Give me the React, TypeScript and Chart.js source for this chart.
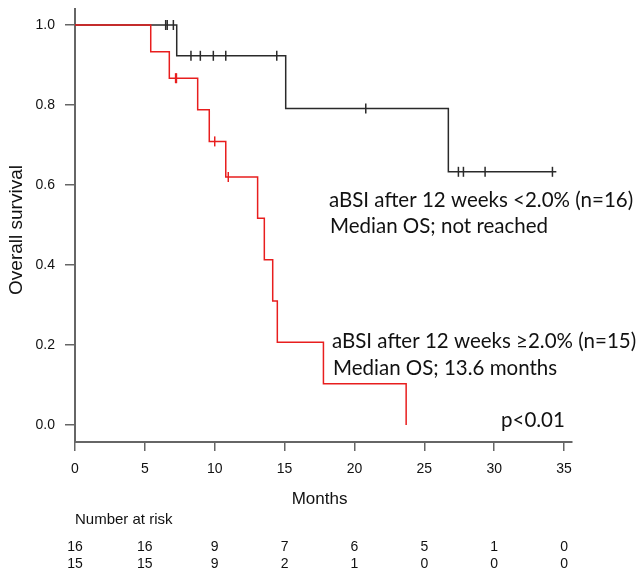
import React, { useEffect, useRef } from "react";
import { Chart, registerables } from "chart.js";

Chart.register(...registerables);

// Axis ticks
const xTicks = [0, 5, 10, 15, 20, 25, 30, 35];
const yTicks = [0, 0.2, 0.4, 0.6, 0.8, 1.0];

// aBSI < 2.0% (n=16): Kaplan-Meier steps and censor times
const lowTimes = [0, 7.28, 15.08, 26.72, 34.45];
const lowSurv = [1, 0.923, 0.791, 0.633, 0.633];
const lowCensor = [6.49, 6.6, 7.04, 8.3, 8.97, 9.9, 10.79, 14.44, 20.81, 27.44, 27.8, 29.35, 34.17];

// aBSI >= 2.0% (n=15)
const highTimes = [0, 5.42, 6.75, 8.78, 9.61, 10.79, 13.07, 13.55, 14.15, 14.48, 17.78, 23.7];
const highSurv = [1, 0.933, 0.867, 0.788, 0.709, 0.62, 0.517, 0.413, 0.31, 0.207, 0.103, 0];
const highCensor = [7.2, 7.26, 10.0, 10.97];

// Number at risk
const riskLow = [16, 16, 9, 7, 6, 5, 1, 0];
const riskHigh = [15, 15, 9, 2, 1, 0, 0, 0];

const BLACK = "#2a2a2a";
const RED = "rgb(232,30,30)";
const AXIS = "#666666";

function survAt(times: number[], surv: number[], t: number) {
  let v = surv[0];
  for (let i = 0; i < times.length; i++) if (times[i] <= t) v = surv[i];
  return v;
}

const textPlugin = {
  id: "kmText",
  afterDraw(chart: any) {
    const ctx = chart.ctx as CanvasRenderingContext2D;
    const xs = chart.scales.x;
    ctx.save();
    ctx.fillStyle = "#111";
    // annotations
    ctx.font = '20.5px Lato';
    ctx.textAlign = "left";
    ctx.textBaseline = "alphabetic";
    ctx.fillText("aBSI after 12 weeks <2.0% (n=16)", 329, 207);
    ctx.fillText("Median OS; not reached", 330, 233);
    ctx.fillText("aBSI after 12 weeks \u22652.0% (n=15)", 332, 348);
    ctx.fillText("Median OS; 13.6 months", 333, 375);
    ctx.fillText("p<0.01", 501, 427);

    // axis titles
    ctx.font = '17px "Liberation Sans"';
    ctx.textAlign = "center";
    ctx.fillText("Months", xs.getPixelForValue(17.5), 504);

    ctx.save();
    ctx.translate(17, 230);
    ctx.rotate(-Math.PI / 2);
    ctx.font = '19px "Liberation Sans"';
    ctx.textBaseline = "middle";
    ctx.fillText("Overall survival", 0, 0);
    ctx.restore();

    // risk table
    ctx.font = '15px "Liberation Sans"';
    ctx.textAlign = "left";
    ctx.fillText("Number at risk", 75, 524);
    ctx.font = '14px "Liberation Sans"';
    ctx.textAlign = "center";
    xTicks.forEach((t, i) => {
      const px = xs.getPixelForValue(t);
      ctx.fillText(String(riskLow[i]), px, 551);
      ctx.fillText(String(riskHigh[i]), px, 568);
    });
    ctx.restore();
  },
};

export default function App() {
  const ref = useRef<HTMLCanvasElement | null>(null);

  useEffect(() => {
    if (!ref.current) return;
    const censorStyle = (color: string) => ({
      showLine: false,
      pointStyle: "line" as const,
      rotation: 90,
      radius: 5,
      hoverRadius: 5,
      borderColor: color,
      backgroundColor: color,
      borderWidth: 1.5,
    });
    const chart = new Chart(ref.current, {
      type: "line",
      data: {
        datasets: [
          {
            label: "high censor",
            data: highCensor.map((t) => ({ x: t, y: survAt(highTimes, highSurv, t) })),
            ...censorStyle(RED),
          },
          {
            label: "high",
            data: highTimes.map((t, i) => ({ x: t, y: highSurv[i] })),
            stepped: true,
            borderColor: RED,
            borderWidth: 1.5,
            pointRadius: 0,
            fill: false,
          },
          {
            label: "low censor",
            data: lowCensor.map((t) => ({ x: t, y: survAt(lowTimes, lowSurv, t) })),
            ...censorStyle(BLACK),
          },
          {
            label: "low",
            data: lowTimes.map((t, i) => ({ x: t, y: lowSurv[i] })),
            stepped: true,
            borderColor: BLACK,
            borderWidth: 1.5,
            pointRadius: 0,
            fill: false,
          },
        ],
      },
      options: {
        animation: false,
        responsive: false,
        events: [],
        layout: { padding: { left: 0, top: 9, right: 72, bottom: 0 } },
        plugins: { legend: { display: false }, tooltip: { enabled: false } },
        scales: {
          x: {
            type: "linear",
            min: 0,
            max: 35.57,
            afterBuildTicks: (s: any) => {
              s.ticks = xTicks.map((v) => ({ value: v }));
            },
            afterFit: (s: any) => {
              s.height = 129;
              s.paddingLeft = 0;
              s.paddingRight = 0;
            },
            grid: { drawOnChartArea: false, drawTicks: true, tickLength: 9, color: AXIS, lineWidth: 1.5 },
            border: { display: true, color: AXIS, width: 2 },
            ticks: {
              autoSkip: false,
              maxRotation: 0,
              padding: 10,
              color: "#111",
              font: { family: "Liberation Sans", size: 14 },
              callback: (v: any) => String(v),
            },
          },
          y: {
            type: "linear",
            min: -0.0425,
            max: 1.04,
            afterBuildTicks: (s: any) => {
              s.ticks = yTicks.map((v) => ({ value: v }));
            },
            afterFit: (s: any) => {
              s.width = 75;
              s.paddingTop = 0;
              s.paddingBottom = 0;
            },
            grid: { drawOnChartArea: false, drawTicks: true, tickLength: 10, color: AXIS, lineWidth: 1.5 },
            border: { display: true, color: AXIS, width: 2 },
            ticks: {
              autoSkip: false,
              padding: 10,
              color: "#111",
              font: { family: "Liberation Sans", size: 14 },
              callback: (v: any) => Number(v).toFixed(1),
            },
          },
        },
      },
      plugins: [textPlugin],
    } as any);
    return () => chart.destroy();
  }, []);

  return (
    <div style={{ position: "fixed", left: 0, top: 0, width: 644, height: 571, background: "#fff" }}>
      <canvas ref={ref} width={644} height={571} style={{ display: "block" }} />
    </div>
  );
}
